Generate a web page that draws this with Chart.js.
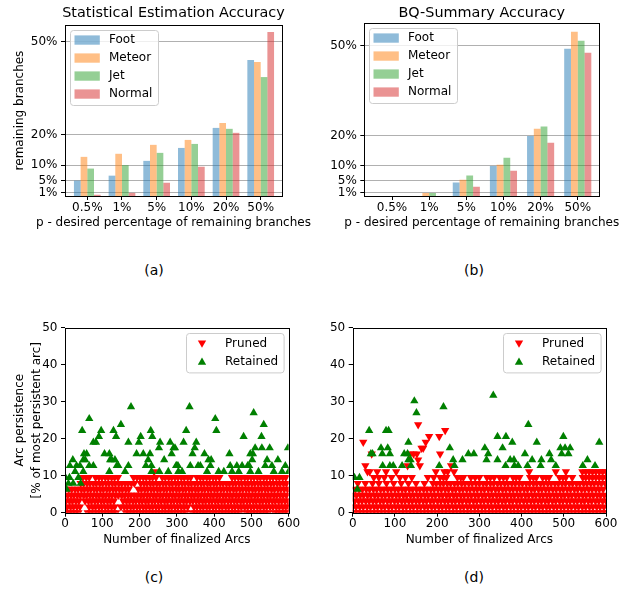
<!DOCTYPE html>
<html>
<head>
<meta charset="utf-8">
<script src="https://cdn.jsdelivr.net/npm/chart.js@4.4.0/dist/chart.umd.min.js"></script>
<style>
body { margin: 0; background: #fff; }
#fig { position: relative; width: 636px; height: 597px; }
canvas { position: absolute; }
.lab { position: absolute; font: 14px 'DejaVu Sans'; transform: translate(-50%, -50%); }
</style>
</head>
<body>
<div id="fig">
  <canvas id="ca" width="318" height="240" style="left:0;top:0"></canvas>
  <canvas id="cb" width="318" height="240" style="left:318px;top:0"></canvas>
  <canvas id="cc" width="318" height="260" style="left:0;top:300px"></canvas>
  <canvas id="cd" width="318" height="260" style="left:318px;top:300px"></canvas>
  <div class="lab" style="left:154px;top:270px">(a)</div>
  <div class="lab" style="left:474px;top:270px">(b)</div>
  <div class="lab" style="left:154px;top:577px">(c)</div>
  <div class="lab" style="left:474px;top:577px">(d)</div>
</div>
<script>
Chart.defaults.font.family = "'DejaVu Sans', sans-serif";
Chart.defaults.font.size = 12;
Chart.defaults.color = '#000';
Chart.defaults.animation = false;

// ---- bar charts (a) (b)
const categories = ['0.5%', '1%', '5%', '10%', '20%', '50%'];
const seriesNames = ['Foot', 'Meteor', 'Jet', 'Normal'];
const seriesColors = ['rgba(31,119,180,0.5)', 'rgba(255,127,14,0.5)', 'rgba(44,160,44,0.5)', 'rgba(214,39,40,0.5)'];
const yTicks = [1, 5, 10, 20, 50];

const footA   = [5.0, 6.6, 11.4, 15.6, 22.1, 44.1];
const meteorA = [12.7, 13.7, 16.6, 18.2, 23.7, 43.5];
const jetA    = [8.9, 10.0, 14.0, 16.9, 21.8, 38.6];
const normalA = [0.4, 1.0, 4.3, 9.5, 20.5, 53.2];

const footB   = [0, 0, 4.5, 10.0, 20.0, 49.0];
const meteorB = [0, 1.0, 5.4, 10.4, 22.4, 54.7];
const jetB    = [0, 1.0, 6.8, 12.7, 23.1, 51.7];
const normalB = [0, 0, 3.1, 8.4, 17.7, 47.7];

// ---- scatter charts (c) (d): persistence levels are multiples of 100/63
const levels = [0, 1.59, 3.17, 4.76, 6.35, 7.94, 9.52, 11.11];

// (c) pruned arcs, x positions per level row
const prunedC = [
  [2,11,19,28,36,61,69,78,87,95,104,112,121,129,137,163,171,180,188,197,205,214,222,231,239,248,256,265,273,282,290,299,307,316,324,341,350,358,367,375,384,392,401,409,418,426,435,443,452,460,469,486,494,503,511,520,528,537,545,562,571,579,588,596],
  [6,15,23,32,40,65,74,82,91,99,108,116,125,133,150,159,167,176,184,193,201,210,218,227,235,244,252,261,269,278,286,295,303,312,320,329,346,354,363,371,380,388,397,405,414,422,431,439,448,456,465,473,482,490,499,507,516,524,533,541,550,558,567,575,584,592,600],
  [3,12,20,29,37,54,63,71,80,88,97,105,114,122,131,156,165,173,182,190,199,207,216,224,233,241,250,258,267,275,284,292,301,309,318,326,335,343,352,360,369,377,386,394,403,411,420,428,437,445,454,462,471,479,488,496,505,513,522,530,539,547,556,564,573,581,590,598],
  [7,16,24,33,41,50,58,67,75,84,92,101,109,118,126,135,143,152,160,169,177,186,194,203,211,220,228,237,245,254,262,271,279,288,296,305,313,322,330,339,347,356,364,373,381,390,398,407,415,424,432,441,449,458,466,475,483,492,500,509,517,526,534,543,551,560,568,577,585,594],
  [1,10,18,27,35,44,52,61,69,78,86,95,103,112,120,129,137,146,154,163,171,197,205,214,222,231,239,248,256,265,273,282,290,299,307,316,324,333,341,350,358,367,375,384,392,401,409,418,426,435,443,452,460,469,477,486,494,503,511,520,528,537,545,554,562,571,579,588,597],
  [42,50,59,67,76,84,93,101,110,118,127,135,144,152,161,169,178,186,203,212,220,229,237,246,254,263,271,280,288,297,305,314,322,331,339,348,356,365,373,382,390,399,407,416,424,433,441,450,458,467,475,484,492,501,509,518,526,535,543,552,560,569,577,586,594],
  [48,57,65,82,91,99,108,116,125,133,142,184,193,201,210,218,227,235,244,261,269,278,286,295,303,312,320,329,337,354,363,371,380,388,397,405,414,448,456,465,473,482,490,499,507,516,524,533,541,550,558,567,575,584,592],
  [239]
];
const retainedC = [
  [177,28.6],[65,25.4],[46,22.2],[150,23.8],[97,22.2],[130,22.2],[91,20.6],[83,19.0],[76,19.0],[137,20.6],
  [170,19.0],[203,20.6],[198,19.0],[230,22.2],[234,20.6],[255,19.0],[252,17.5],[282,19.0],[295,17.5],[300,12.7],
  [21,14.3],[13,12.7],[31,12.7],[40,12.7],[51,15.9],[58,15.9],[49,14.3],[54,14.3],[27,11.1],[49,11.1],
  [65,12.7],[76,12.7],[106,15.9],[119,15.9],[125,14.3],[134,14.3],[121,14.3],[139,12.7],[143,12.7],[170,12.7],
  [161,11.1],[119,11.1],[192,15.9],[210,15.9],[223,14.3],[228,15.9],[217,12.7],[232,12.7],[232,11.1],[253,11.1],
  [266,14.3],[277,11.1],[286,15.9],[298,12.7],[304,11.1],[12,9.5],[1,9.5],[9,7.9],[22,7.9],[36,9.5],[42,7.9],[4,6.3],
  [334,28.6],[506,27.0],[403,25.4],[533,23.8],[325,22.2],[406,22.2],[479,20.6],[527,20.6],[318,19.0],[352,19.0],
  [348,17.5],[510,17.5],[504,15.9],[528,17.5],[549,17.5],[598,17.5],[291,17.5],[342,15.9],[374,15.9],[441,15.9],
  [497,15.9],[385,14.3],[502,14.3],[542,14.3],[571,14.3],[494,12.7],[390,12.7],[303,12.7],[336,12.7],[357,12.7],
  [363,12.7],[443,12.7],[461,12.7],[475,12.7],[490,12.7],[537,12.7],[555,12.7],[591,12.7],[314,11.1],[381,11.1],
  [412,11.1],[426,11.1],[448,11.1],[466,11.1],[497,11.1],[519,11.1],[560,11.1],[582,11.1],[600,11.1],[392,14.3]
];

// (d) pruned arcs, x positions per level row + scattered high ones
const prunedD = [
  [4,13,21,30,38,47,55,64,72,81,89,98,106,115,123,132,140,149,157,166,174,183,191,200,208,217,225,234,242,251,259,268,276,285,293,302,310,319,327,336,344,353,361,370,378,387,395,404,412,421,429,438,446,455,463,472,480,489,497,506,514,523,531,540,548,557,565,574,582,591,599],
  [0,8,17,25,34,42,51,59,68,76,85,93,102,110,119,127,136,144,153,161,170,178,187,195,204,212,221,229,238,246,255,263,272,280,289,297,306,314,323,331,340,348,357,365,374,382,391,399,408,416,425,433,442,450,459,467,476,484,493,501,510,518,527,535,544,552,561,569,578,586,595],
  [5,14,22,31,39,48,56,65,73,82,90,99,107,116,124,133,141,150,158,167,175,184,192,201,209,218,226,235,243,252,260,269,277,286,294,303,311,320,328,337,345,354,362,371,379,388,396,405,413,422,430,439,447,456,464,473,481,490,498,507,515,524,532,541,549,558,566,575,583,592,600],
  [1,9,18,26,35,43,52,60,69,77,86,94,103,111,120,128,137,145,154,162,171,179,188,196,205,213,222,230,239,247,256,264,273,281,290,298,307,315,324,332,341,349,358,366,375,383,392,400,409,417,426,434,443,451,460,468,477,485,494,502,511,519,528,536,545,553,562,570,579,587,596],
  [6,15,23,32,40,49,57,66,74,83,91,100,108,117,125,134,142,151,159,168,176,185,193,202,210,219,227,236,244,253,261,270,278,287,295,304,312,321,329,338,346,355,363,372,380,389,397,406,414,423,431,440,448,457,465,474,482,491,499,508,516,525,533,542,550,559,567,576,584,593],
  [12,30,47,62,80,97,115,132,150,170,190,198,207,215,224,232,241,249,258,266,275,283,292,300,309,317,326,334,343,351,360,368,377,385,394,402,411,419,428,436,445,453,462,470,479,487,496,504,513,521,530,538,547,555,564,572,581,589,598],
  [50,62,75,92,112,125,140,178,192,207,215,222,248,256,262,280,290,300,318,326,335,348,357,365,380,387,395,420,428,435,450,458,465,490,498,505,520,545,552,560,568,576,584,592,600],
  [40,58,103,197,217,225,240,418,481,505,544,552,560,568,576,584,592,600]
];
const prunedDHigh = [
  [25,19.05],[30,12.7],[35,11.11],[45,15.87],[79,11.11],[130,12.7],[136,15.87],[144,15.87],[152,15.87],[155,14.29],
  [159,12.7],[155,23.81],[163,17.46],[167,17.46],[173,19.05],[181,20.63],[205,20.63],[207,15.87],[219,22.22],[233,12.7]
];
const retainedD = [
  [4,9.5],[16,9.5],[11,6.3],[39,22.2],[43,15.9],[47,15.9],[67,17.5],[70,15.9],[71,12.7],[79,22.2],
  [85,22.2],[83,17.5],[88,15.9],[88,12.7],[96,12.7],[117,12.7],[122,15.9],[130,15.9],[132,19.0],[137,14.3],
  [146,30.2],[151,27.0],[215,28.6],[138,12.7],[132,14.3],[205,12.7],[230,17.5],[238,14.3],[241,12.7],[260,14.3],
  [274,15.9],[287,15.9],[313,17.5],[321,15.9],[317,14.3],[333,31.7],[343,20.6],[343,14.3],[355,17.5],[363,20.6],
  [362,12.7],[373,14.3],[378,19.0],[382,14.3],[383,12.7],[392,12.7],[408,15.9],[414,12.7],[416,23.8],[425,14.3],
  [436,19.0],[445,12.7],[447,14.3],[466,15.9],[470,14.3],[481,12.7],[492,17.5],[495,15.9],[499,20.6],[503,17.5],
  [511,15.9],[515,17.5],[545,12.7],[556,14.3],[574,12.7],[584,19.0]
];

// draws the black box round the axes
const frame = {
  id: 'frame',
  afterDatasetsDraw(chart) {
    const a = chart.chartArea, c = chart.ctx;
    c.save();
    c.strokeStyle = '#000';
    c.lineWidth = 1;
    const l = Math.round(a.left), t = Math.round(a.top), r = Math.round(a.right), b = Math.round(a.bottom);
    c.strokeRect(l + 0.5, t + 0.5, r - l, b - t);
    c.restore();
  }
};

// titles that may be wider than the plot (chart title, long x label)
const figText = {
  id: 'figText',
  afterDraw(chart, args, o) {
    const a = chart.chartArea, c = chart.ctx;
    c.save();
    c.fillStyle = '#000';
    c.textAlign = 'center';
    c.textBaseline = 'middle';
    (o.items || []).forEach(t => {
      c.font = t.size + "px 'DejaVu Sans'";
      c.fillText(t.text, (a.left + a.right) / 2, t.above ? a.top - t.dy : a.bottom + t.dy);
    });
    c.restore();
  }
};

function tri(c, x, y, r, down) {
  const s = down ? -1 : 1;
  c.beginPath();
  c.moveTo(x, y - s * r);
  c.lineTo(x + 0.866 * r, y + s * r / 2);
  c.lineTo(x - 0.866 * r, y + s * r / 2);
  c.closePath();
  c.fill();
}

// matplotlib-like legend box inside the axes
const boxLegend = {
  id: 'boxLegend',
  afterDraw(chart, args, o) {
    const a = chart.chartArea, c = chart.ctx;
    const x0 = Math.round(o.right ? a.right - o.dx - o.w : a.left + o.dx);
    const y0 = Math.round(a.top + o.dy);
    c.save();
    c.fillStyle = 'rgba(255,255,255,0.8)';
    c.strokeStyle = '#cccccc';
    c.lineWidth = 1;
    c.beginPath();
    c.roundRect(x0 + 0.5, y0 + 0.5, o.w, o.h, 3);
    c.fill();
    c.stroke();
    c.font = "12px 'DejaVu Sans'";
    c.textBaseline = 'middle';
    chart.data.datasets.forEach((ds, i) => {
      const yy = y0 + o.first + i * o.gap;
      c.fillStyle = ds.backgroundColor;
      if (o.patch) c.fillRect(x0 + o.mark, yy - 4.6, 25.3, 9.3);
      else tri(c, x0 + o.mark, yy + (ds.rotation ? -1 : 1), 4.8, ds.rotation === 180);
      c.fillStyle = '#000';
      c.fillText(ds.label, x0 + o.text, yy);
    });
    c.restore();
  }
};

function barChart(id, title, vals, cfg) {
  new Chart(document.getElementById(id), {
    type: 'bar',
    data: {
      datasets: seriesNames.map((n, i) => ({
        label: n,
        data: vals[i].map((v, j) => ({ x: j, y: v })),
        backgroundColor: seriesColors[i],
        borderWidth: 0,
        categoryPercentage: cfg.catPct,
        barPercentage: 1
      }))
    },
    options: {
      responsive: false,
      layout: { padding: { top: cfg.padTop, right: cfg.padRight } },
      plugins: {
        legend: { display: false },
        tooltip: { enabled: false },
        figText: { items: [
          { text: title, size: 14.4, above: true, dy: cfg.titleDy },
          { text: 'p - desired percentage of remaining branches', size: 12, above: false, dy: 26.5 }
        ] },
        boxLegend: { patch: true, dx: 5, dy: 5, w: 88, h: 75, first: 10, gap: 18, mark: 4.5, text: 39 }
      },
      scales: {
        x: {
          type: 'linear', min: cfg.xMin, max: cfg.xMax, offset: false,
          afterBuildTicks: s => { s.ticks = categories.map((c, i) => ({ value: i })); },
          afterFit: s => { s.height = 44; },
          ticks: { callback: v => categories[v], padding: 1, autoSkip: false, maxRotation: 0 },
          grid: { drawOnChartArea: false, tickLength: 4, color: '#000', offset: false },
          border: { display: false }
        },
        y: {
          min: 0, max: cfg.yMax,
          afterBuildTicks: s => { s.ticks = yTicks.map(v => ({ value: v })); },
          afterFit: s => { s.width = cfg.yWidth; },
          ticks: { callback: v => v + '%', padding: 3.5 },
          grid: { color: '#b0b0b0', tickColor: '#000', tickLength: 4 },
          border: { display: false },
          title: { display: cfg.yTitle, text: 'remaining branches', padding: { top: 12.8, bottom: 0 } }
        }
      }
    },
    plugins: [frame, figText, boxLegend]
  });
}

barChart('ca', 'Statistical Estimation Accuracy', [footA, meteorA, jetA, normalA],
  { catPct: 0.77, padTop: 25, padRight: 36, titleDy: 12, xMin: -0.643, xMax: 5.614, yMax: 55.5, yWidth: 65, yTitle: true });
barChart('cb', 'BQ-Summary Accuracy', [footB, meteorB, jetB, normalB],
  { catPct: 0.73, padTop: 23.3, padRight: 36.7, titleDy: 9.8, xMin: -0.746, xMax: 5.58, yMax: 57.5, yWidth: 46.3, yTitle: false });

function rowsToPoints(rows) {
  return rows.flatMap((xs, k) => xs.map(x => ({ x: x, y: levels[k] })));
}

function scatterChart(id, pruned, retained, cfg) {
  new Chart(document.getElementById(id), {
    type: 'scatter',
    data: {
      datasets: [
        { label: 'Pruned', data: pruned, backgroundColor: '#ff0000', rotation: 180, order: 1 },
        { label: 'Retained', data: retained, backgroundColor: '#008000', rotation: 0, order: 0 }
      ].map(d => Object.assign(d, { pointStyle: 'triangle', pointRadius: 4.8, pointBorderWidth: 0, borderColor: d.backgroundColor, clip: 0 }))
    },
    options: {
      responsive: false,
      layout: { padding: { top: 27.7, right: cfg.padRight } },
      plugins: {
        legend: { display: false },
        tooltip: { enabled: false },
        boxLegend: { patch: false, right: true, dx: 5.5, dy: 5.6, w: 97.6, h: 39.4, first: 11, gap: 17.4, mark: 16, text: 39 }
      },
      scales: {
        x: {
          type: 'linear', min: 0, max: 600,
          afterFit: s => { s.height = 47.3; },
          ticks: { stepSize: 100, padding: 0, maxRotation: 0 },
          grid: { drawOnChartArea: false, tickLength: 4, color: '#000' },
          border: { display: false },
          title: { display: true, text: 'Number of finalized Arcs', padding: { top: 0, bottom: 12.8 } }
        },
        y: {
          min: 0, max: 50,
          afterFit: s => { s.width = cfg.yWidth; },
          ticks: { stepSize: 10, padding: 3.5 },
          grid: { drawOnChartArea: false, tickLength: 4, color: '#000' },
          border: { display: false },
          title: { display: cfg.yTitle, text: ['Arc persistence', '[% of most persistent arc]'], font: { size: 12, lineHeight: 1.42 }, padding: { top: 11.6, bottom: 0 } }
        }
      }
    },
    plugins: [frame, boxLegend]
  });
}

scatterChart('cc', rowsToPoints(prunedC), retainedC.map(p => ({ x: p[0], y: p[1] })),
  { padRight: 29.3, yWidth: 65, yTitle: true });
scatterChart('cd', rowsToPoints(prunedD).concat(prunedDHigh.map(p => ({ x: p[0], y: p[1] }))), retainedD.map(p => ({ x: p[0], y: p[1] })),
  { padRight: 30, yWidth: 34.7, yTitle: false });
</script>
</body>
</html>
